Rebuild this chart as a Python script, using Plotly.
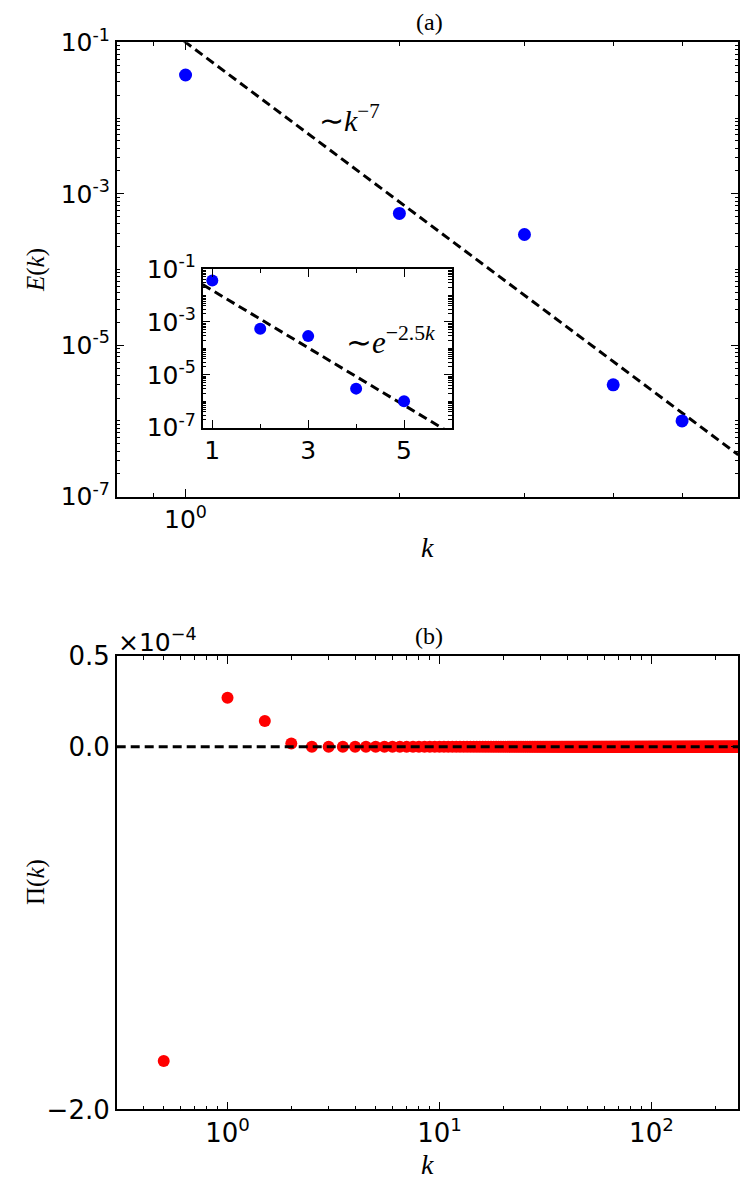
import numpy as np
import plotly.graph_objects as go

# panel (a): spectrum E(k)
K_A = [1, 2, 3, 4, 5]
E_K = [3.7e-2, 5.5e-4, 2.9e-4, 3.0e-6, 1.0e-6]

# panel (b): flux Pi(k), step 0.5 in k; only the first few leave zero
K_B = np.arange(0.5, 256.5, 0.5)
PI_FIRST = [-1.733e-4, 0.270e-4, 0.142e-4, 0.017e-4]
PI_K = PI_FIRST + [0.0] * (len(K_B) - len(PI_FIRST))

E_TICKS = [1e-1, 1e-3, 1e-5, 1e-7]
E_TICKTEXT = ['10<sup>-1</sup>', '10<sup>-3</sup>', '10<sup>-5</sup>', '10<sup>-7</sup>']
INSET_X_TICKS = [1, 3, 5]
PI_TICKS = [0.5e-4, 0.0, -2.0e-4]
PI_TICKTEXT = ['0.5', '0.0', '\u22122.0']
KB_TICKS = [1, 10, 100]
KB_TICKTEXT = ['10<sup>0</sup>', '10<sup>1</sup>', '10<sup>2</sup>']

# fit lines
k_fit = np.linspace(0.8, 6.0, 80)
power_fit = 0.1 * k_fit ** -7
exp_fit = 0.19 * np.exp(-2.5 * k_fit)

W, H = 747, 1185
SANS = 'DejaVu Sans'
SERIF = 'Liberation Serif'
dash = dict(color='black', width=3, dash='9px,5px')


def px_x(p):
    return p / W


def px_y(p):
    return 1 - p / H


fig = go.Figure()

# main spectrum
fig.add_trace(go.Scatter(x=k_fit, y=power_fit, mode='lines', line=dash,
                         xaxis='x', yaxis='y', showlegend=False))
fig.add_trace(go.Scatter(x=K_A, y=E_K, mode='markers',
                         marker=dict(color='#0000ff', size=13),
                         xaxis='x', yaxis='y', showlegend=False))

# inset
fig.add_trace(go.Scatter(x=k_fit, y=exp_fit, mode='lines', line=dash,
                         xaxis='x2', yaxis='y2', showlegend=False))
fig.add_trace(go.Scatter(x=K_A, y=E_K, mode='markers',
                         marker=dict(color='#0000ff', size=12),
                         xaxis='x2', yaxis='y2', showlegend=False))

# flux
fig.add_trace(go.Scatter(x=K_B, y=PI_K, mode='markers',
                         marker=dict(color='#ff0000', size=12),
                         xaxis='x3', yaxis='y3', showlegend=False))
fig.add_shape(type='line', xref='x3 domain', yref='y3', x0=0, x1=1, y0=0, y1=0,
              line=dash)

axis_common = dict(showgrid=False, zeroline=False, showline=True, automargin=False,
                   linecolor='black', linewidth=1.5, mirror='allticks',
                   ticks='inside', ticklen=8, tickwidth=1, tickcolor='black')
minor_log = dict(ticks='inside', ticklen=4, tickwidth=1, tickcolor='black', dtick='D1')

x_dom = [px_x(116.7), px_x(738.3)]
font_a = dict(family=SANS, size=25, color='black')
font_b = dict(family=SANS, size=26, color='black')

fig.update_layout(
    width=W, height=H,
    margin=dict(l=0, r=0, t=0, b=0),
    paper_bgcolor='white', plot_bgcolor='white',
    xaxis=dict(axis_common, type='log', domain=x_dom, anchor='y',
               range=[np.log10(0.8), np.log10(6.0)],
               tickvals=[1], ticktext=['10<sup>0</sup>'],
               tickfont=font_a, minor=minor_log),
    yaxis=dict(axis_common, type='log', domain=[px_y(496.7), px_y(42.3)], anchor='x',
               range=[-7, -1], tickvals=E_TICKS, ticktext=E_TICKTEXT,
               tickfont=font_a, minor=minor_log),
    xaxis2=dict(axis_common, domain=[px_x(202.7), px_x(452)], anchor='y2',
                range=[0.8, 6.0], tickvals=INSET_X_TICKS, tickfont=font_a,
                minor=dict(ticks='inside', ticklen=4, tickcolor='black', dtick=1)),
    yaxis2=dict(axis_common, type='log', domain=[px_y(427.7), px_y(269)], anchor='x2',
                range=[-7, -1], tickvals=E_TICKS, ticktext=E_TICKTEXT,
                tickfont=font_a, minor=minor_log),
    xaxis3=dict(axis_common, type='log', domain=x_dom, anchor='y3',
                range=[np.log10(0.3), np.log10(257)],
                tickvals=KB_TICKS, ticktext=KB_TICKTEXT,
                tickfont=font_b, minor=minor_log),
    yaxis3=dict(axis_common, domain=[px_y(1109.4), px_y(656)], anchor='x3',
                range=[-2.0e-4, 0.5e-4], tickvals=PI_TICKS, ticktext=PI_TICKTEXT,
                tickfont=font_b),
)

labels = [
    ('(a)', 429, 22, 0, SERIF, 24),
    ('(b)', 429, 636, 0, SERIF, 24),
    ('<i>k</i>', 427, 548, 0, SERIF, 28),
    ('<i>k</i>', 427, 1164, 0, SERIF, 28),
    ('<i>E</i>(<i>k</i>)', 36, 270, -90, SERIF, 25),
    ('\u03a0(<i>k</i>)', 36, 882, -90, SERIF, 25),
    ('\u223c<i>k</i><sup>\u22127</sup>', 349, 118, 0, SERIF, 30),
    ('\u223c<i>e</i><sup>\u22122.5<i>k</i></sup>', 390, 340, 0, SERIF, 31),
]
for text, x, y, angle, fam, size in labels:
    fig.add_annotation(text=text, x=px_x(x), y=px_y(y), xref='paper', yref='paper',
                       xanchor='center', yanchor='middle', textangle=angle,
                       showarrow=False, font=dict(family=fam, size=size, color='black'))

fig.add_annotation(text='\u00d710<sup>\u22124</sup>', x=px_x(116), y=px_y(640),
                   xref='paper', yref='paper', xanchor='left', yanchor='middle',
                   showarrow=False, font=dict(family=SANS, size=25, color='black'))

fig.write_html('out.html', config={'displayModeBar': False},
               post_script="document.body.style.margin='0';")
